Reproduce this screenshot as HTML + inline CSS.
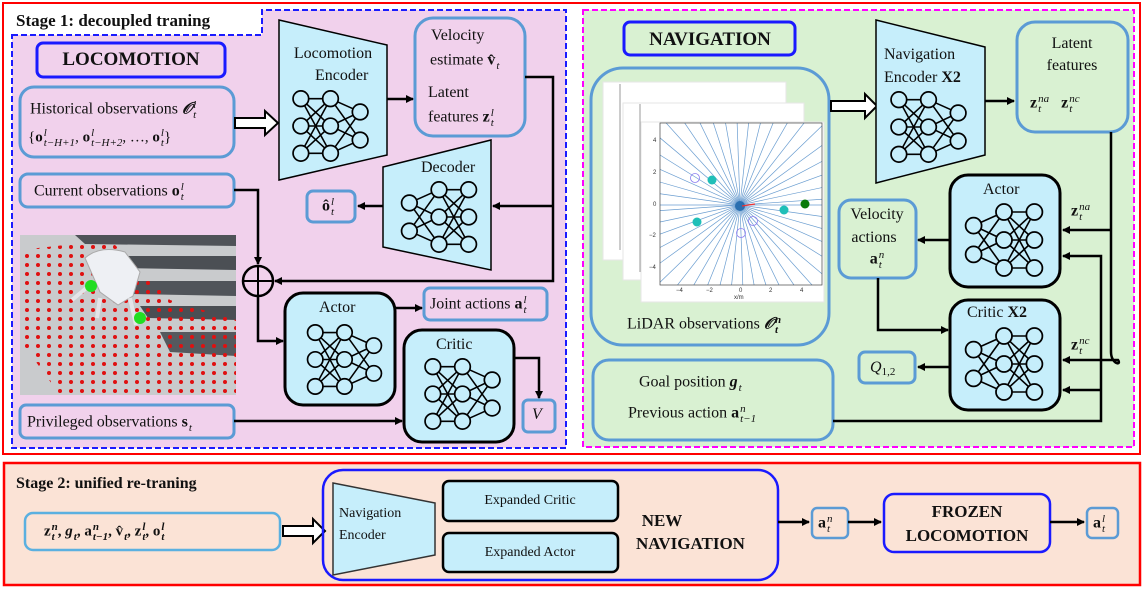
<!DOCTYPE html>
<html><head><meta charset="utf-8">
<style>
html,body{margin:0;padding:0;background:#fff}
#w{position:relative;width:1144px;height:590px;overflow:hidden;font-family:"Liberation Serif",serif}
svg{position:absolute;left:0;top:0}
.t{position:absolute;font-size:16px;white-space:nowrap;line-height:1;color:#111}
.c{transform:translateX(-50%)}
.ss{display:inline-flex;flex-direction:column;vertical-align:middle;font-size:11px;line-height:10px;font-style:italic;margin-left:1px}
.b{font-weight:bold}
i{font-style:italic}
</style></head><body><div id="w">
<svg width="1144" height="590" viewBox="0 0 1144 590">
<defs>
<marker id="ar" markerWidth="8" markerHeight="8" refX="7" refY="4" orient="auto" markerUnits="userSpaceOnUse"><path d="M0,0 L8,4 L0,8 z" fill="#000"/></marker>
<symbol id="nn1" viewBox="0 0 100 100">
<g stroke="#000" stroke-width="2">
<line x1="12" y1="15" x2="50" y2="15"/><line x1="12" y1="15" x2="50" y2="50"/><line x1="12" y1="15" x2="50" y2="85"/>
<line x1="12" y1="50" x2="50" y2="15"/><line x1="12" y1="50" x2="50" y2="50"/><line x1="12" y1="50" x2="50" y2="85"/>
<line x1="12" y1="85" x2="50" y2="15"/><line x1="12" y1="85" x2="50" y2="50"/><line x1="12" y1="85" x2="50" y2="85"/>
<line x1="50" y1="15" x2="88" y2="32"/><line x1="50" y1="15" x2="88" y2="68"/>
<line x1="50" y1="50" x2="88" y2="32"/><line x1="50" y1="50" x2="88" y2="68"/>
<line x1="50" y1="85" x2="88" y2="32"/><line x1="50" y1="85" x2="88" y2="68"/>
</g>
<g fill="#c6eefb" stroke="#000" stroke-width="2.2">
<circle cx="12" cy="15" r="10"/><circle cx="12" cy="50" r="10"/><circle cx="12" cy="85" r="10"/>
<circle cx="50" cy="15" r="10"/><circle cx="50" cy="50" r="10"/><circle cx="50" cy="85" r="10"/>
<circle cx="88" cy="32" r="10"/><circle cx="88" cy="68" r="10"/>
</g></symbol>
<symbol id="nn2" viewBox="0 0 100 100">
<g stroke="#000" stroke-width="2">
<line x1="12" y1="32" x2="50" y2="15"/><line x1="12" y1="32" x2="50" y2="50"/><line x1="12" y1="32" x2="50" y2="85"/>
<line x1="12" y1="68" x2="50" y2="15"/><line x1="12" y1="68" x2="50" y2="50"/><line x1="12" y1="68" x2="50" y2="85"/>
<line x1="50" y1="15" x2="88" y2="15"/><line x1="50" y1="15" x2="88" y2="50"/><line x1="50" y1="15" x2="88" y2="85"/>
<line x1="50" y1="50" x2="88" y2="15"/><line x1="50" y1="50" x2="88" y2="50"/><line x1="50" y1="50" x2="88" y2="85"/>
<line x1="50" y1="85" x2="88" y2="15"/><line x1="50" y1="85" x2="88" y2="50"/><line x1="50" y1="85" x2="88" y2="85"/>
</g>
<g fill="#c6eefb" stroke="#000" stroke-width="2.2">
<circle cx="12" cy="32" r="10"/><circle cx="12" cy="68" r="10"/>
<circle cx="50" cy="15" r="10"/><circle cx="50" cy="50" r="10"/><circle cx="50" cy="85" r="10"/>
<circle cx="88" cy="15" r="10"/><circle cx="88" cy="50" r="10"/><circle cx="88" cy="85" r="10"/>
</g></symbol>
<pattern id="dots" width="11" height="9" patternUnits="userSpaceOnUse"><circle cx="5" cy="4" r="2" fill="#e01010"/></pattern>
<clipPath id="pc"><rect x="660" y="123" width="162" height="162"/></clipPath>
<clipPath id="ph"><rect x="20" y="235" width="216" height="160"/></clipPath>
</defs>

<rect x="3" y="3" width="1137" height="451" fill="#fff" stroke="#ff0000" stroke-width="2"/>
<rect x="4" y="463" width="1136" height="122" fill="#fbe3d6" stroke="#ff0000" stroke-width="2.5"/>

<path d="M12,35 H262 V10 H566 V448 H12 Z" fill="#f1d1ec" stroke="#1a1aff" stroke-width="2" stroke-dasharray="6 3"/>
<rect x="583" y="10" width="551" height="437" fill="#d9f1d2" stroke="#ff00ff" stroke-width="2" stroke-dasharray="6 3"/>

<!-- LOCOMOTION -->
<rect x="37" y="43" width="188" height="34" rx="6" fill="none" stroke="#1a1aff" stroke-width="3"/>
<rect x="20" y="87" width="214" height="70" rx="14" fill="none" stroke="#5b9bd5" stroke-width="3"/>
<rect x="20" y="174" width="214" height="33" rx="8" fill="none" stroke="#5b9bd5" stroke-width="3"/>
<rect x="20" y="405" width="214" height="33" rx="6" fill="none" stroke="#5b9bd5" stroke-width="3"/>
<path d="M235,118 H265 V111 L278,123 L265,135 V128 H235 Z" fill="#fff" stroke="#000" stroke-width="2"/>
<polygon points="279,20 387,45 387,155 279,180" fill="#c6eefb" stroke="#000" stroke-width="1.5"/>
<use href="#nn1" x="283" y="87" width="95" height="78"/>
<rect x="415" y="18" width="110" height="118" rx="18" fill="none" stroke="#5b9bd5" stroke-width="3"/>
<polygon points="383,167 491,140 491,270 383,247" fill="#c6eefb" stroke="#000" stroke-width="1.5"/>
<use href="#nn2" x="390" y="178" width="98" height="78"/>
<rect x="307" y="191" width="48" height="31" rx="6" fill="none" stroke="#5b9bd5" stroke-width="3"/>
<rect x="285" y="293" width="110" height="112" rx="18" fill="#c6eefb" stroke="#000" stroke-width="3"/>
<use href="#nn1" x="298" y="321" width="93" height="77"/>
<rect x="404" y="330" width="110" height="112" rx="18" fill="#c6eefb" stroke="#000" stroke-width="3"/>
<use href="#nn1" x="415" y="355" width="95" height="78"/>
<rect x="424" y="288" width="123" height="32" rx="6" fill="none" stroke="#5b9bd5" stroke-width="3"/>
<rect x="523" y="400" width="32" height="32" rx="5" fill="none" stroke="#5b9bd5" stroke-width="3"/>
<circle cx="258" cy="281" r="15" fill="none" stroke="#000" stroke-width="2.5"/>
<line x1="243" y1="281" x2="273" y2="281" stroke="#000" stroke-width="2"/><line x1="258" y1="266" x2="258" y2="296" stroke="#000" stroke-width="2"/>

<g fill="none" stroke="#000" stroke-width="2.5" marker-end="url(#ar)">
<path d="M387,99 H413"/>
<path d="M525,77 H553 V281 H275"/>
<path d="M553,206 H493"/>
<path d="M383,206 H358"/>
<path d="M234,190 H258 V264"/>
<path d="M258,296 V341 H283"/>
<path d="M395,308 H422"/>
<path d="M514,358 H539 V398"/>
<path d="M234,421 H402"/>
</g>

<!-- photo -->
<g clip-path="url(#ph)">
<rect x="20" y="235" width="216" height="160" fill="#c9cbcd"/>
<polygon points="75,235 236,235 236,246 85,244" fill="#4f5358"/>
<polygon points="110,256 236,256 236,270 118,268" fill="#4b4f54"/>
<polygon points="125,281 236,281 236,296 132,294" fill="#50545a"/>
<polygon points="140,306 236,306 236,320 148,318" fill="#4a4e53"/>
<polygon points="160,332 236,332 236,356 170,352" fill="#55595e"/>
<polygon points="20,250 110,240 170,300 236,320 236,395 60,395 20,340" fill="url(#dots)"/>
<path d="M85,258 Q100,245 125,252 L140,272 L133,296 L118,305 L100,292 Z" fill="#eef0f4" stroke="#aaa" stroke-width="1"/>
<path d="M90,285 L72,300 M100,298 L97,318 M130,298 L136,325" stroke="#e4e4e8" stroke-width="4"/>
<circle cx="91" cy="286" r="6" fill="#22dd22"/><circle cx="140" cy="318" r="6" fill="#22dd22"/>
</g>

<!-- NAVIGATION -->
<rect x="624" y="22" width="171" height="33" rx="6" fill="none" stroke="#1a1aff" stroke-width="3"/>
<rect x="591" y="68" width="238" height="277" rx="32" fill="none" stroke="#5b9bd5" stroke-width="3"/>
<rect x="603" y="82" width="183" height="178" fill="#fff" stroke="#e6e6e6"/>
<rect x="623" y="103" width="181" height="177" fill="#fff" stroke="#e6e6e6"/>
<rect x="641" y="122" width="183" height="180" fill="#fff" stroke="#e6e6e6"/>
<line x1="620" y1="84" x2="620" y2="250" stroke="#555" stroke-width=".6"/>
<line x1="640" y1="104" x2="640" y2="272" stroke="#555" stroke-width=".6"/>
<g clip-path="url(#pc)" stroke="#6a9dd0" stroke-width="0.7">
<line x1="540" y1="205" x2="940" y2="205"/>
<line x1="540" y1="205" x2="940" y2="205" transform="rotate(8 740 205)"/>
<line x1="540" y1="205" x2="940" y2="205" transform="rotate(16 740 205)"/>
<line x1="540" y1="205" x2="940" y2="205" transform="rotate(24 740 205)"/>
<line x1="540" y1="205" x2="940" y2="205" transform="rotate(32 740 205)"/>
<line x1="540" y1="205" x2="940" y2="205" transform="rotate(40 740 205)"/>
<line x1="540" y1="205" x2="940" y2="205" transform="rotate(48 740 205)"/>
<line x1="540" y1="205" x2="940" y2="205" transform="rotate(56 740 205)"/>
<line x1="540" y1="205" x2="940" y2="205" transform="rotate(64 740 205)"/>
<line x1="540" y1="205" x2="940" y2="205" transform="rotate(72 740 205)"/>
<line x1="540" y1="205" x2="940" y2="205" transform="rotate(80 740 205)"/>
<line x1="540" y1="205" x2="940" y2="205" transform="rotate(88 740 205)"/>
<line x1="540" y1="205" x2="940" y2="205" transform="rotate(96 740 205)"/>
<line x1="540" y1="205" x2="940" y2="205" transform="rotate(104 740 205)"/>
<line x1="540" y1="205" x2="940" y2="205" transform="rotate(112 740 205)"/>
<line x1="540" y1="205" x2="940" y2="205" transform="rotate(120 740 205)"/>
<line x1="540" y1="205" x2="940" y2="205" transform="rotate(128 740 205)"/>
<line x1="540" y1="205" x2="940" y2="205" transform="rotate(136 740 205)"/>
<line x1="540" y1="205" x2="940" y2="205" transform="rotate(144 740 205)"/>
<line x1="540" y1="205" x2="940" y2="205" transform="rotate(152 740 205)"/>
<line x1="540" y1="205" x2="940" y2="205" transform="rotate(160 740 205)"/>
<line x1="540" y1="205" x2="940" y2="205" transform="rotate(168 740 205)"/>
<line x1="540" y1="205" x2="940" y2="205" transform="rotate(176 740 205)"/>
</g>
<rect x="660" y="123" width="162" height="162" fill="none" stroke="#444" stroke-width=".7"/>
<circle cx="740" cy="206" r="5" fill="#2a6fb0"/>
<line x1="742" y1="206" x2="755" y2="204" stroke="#e33" stroke-width="1.2"/>
<circle cx="712" cy="180" r="4.5" fill="#1fbfb8"/><circle cx="697" cy="222" r="4.5" fill="#1fbfb8"/><circle cx="784" cy="210" r="4.5" fill="#1fbfb8"/>
<circle cx="805" cy="204" r="4.5" fill="#0a7a0a"/>
<g fill="none" stroke="#8a7cf0" stroke-width="0.8"><circle cx="695" cy="178" r="4.5"/><circle cx="753" cy="221" r="4.5"/><circle cx="741" cy="233" r="4.5"/></g>
<g font-family="Liberation Sans" font-size="6" fill="#333">
<text x="676" y="292">−4</text><text x="706" y="292">−2</text><text x="739" y="292">0</text><text x="769" y="292">2</text><text x="800" y="292">4</text><text x="734" y="299">x/m</text>
<text x="653" y="142">4</text><text x="653" y="174">2</text><text x="653" y="206">0</text><text x="649" y="237">−2</text><text x="649" y="269">−4</text>
</g>
<path d="M831,101 H865 V94 L877,106 L865,118 V111 H831 Z" fill="#fff" stroke="#000" stroke-width="2"/>
<polygon points="876,20 985,47 985,155 876,183" fill="#c6eefb" stroke="#000" stroke-width="1.5"/>
<use href="#nn1" x="881" y="88" width="95" height="78"/>
<rect x="1017" y="22" width="111" height="110" rx="18" fill="none" stroke="#5b9bd5" stroke-width="3"/>
<rect x="950" y="175" width="110" height="112" rx="18" fill="#c6eefb" stroke="#000" stroke-width="3"/>
<use href="#nn2" x="957" y="200" width="94" height="80"/>
<rect x="950" y="300" width="110" height="110" rx="18" fill="#c6eefb" stroke="#000" stroke-width="3"/>
<use href="#nn2" x="957" y="324" width="94" height="80"/>
<rect x="839" y="200" width="77" height="78" rx="12" fill="none" stroke="#5b9bd5" stroke-width="3"/>
<rect x="859" y="352" width="56" height="31" rx="6" fill="none" stroke="#5b9bd5" stroke-width="3"/>
<rect x="593" y="360" width="240" height="80" rx="16" fill="none" stroke="#5b9bd5" stroke-width="3"/>
<g fill="none" stroke="#000" stroke-width="2.5" marker-end="url(#ar)">
<path d="M985,101 H1014"/>
<path d="M1111,132 V352 C1111,364 1122,366 1118,360 H1063"/>
<path d="M1111,230 H1063"/>
<path d="M950,240 H918"/>
<path d="M878,278 V330 H948"/>
<path d="M950,367 H918"/>
<path d="M833,421 H1101 V256 H1063"/>
<path d="M1101,390 H1063"/>
</g>

<!-- stage 2 -->
<rect x="25" y="513" width="255" height="37" rx="8" fill="none" stroke="#5bb0e0" stroke-width="2.5"/>
<path d="M283,526 H313 V519 L325,531 L313,543 V536 H283 Z" fill="#fff" stroke="#000" stroke-width="2"/>
<rect x="323" y="470" width="455" height="110" rx="20" fill="none" stroke="#1a1aff" stroke-width="2.5"/>
<polygon points="333,483 435,503 435,555 333,575" fill="#c6eefb" stroke="#333" stroke-width="1.5"/>
<rect x="443" y="481" width="175" height="40" rx="6" fill="#c6eefb" stroke="#000" stroke-width="2.5"/>
<rect x="443" y="533" width="175" height="39" rx="6" fill="#c6eefb" stroke="#000" stroke-width="2.5"/>
<rect x="812" y="508" width="36" height="30" rx="5" fill="none" stroke="#5b9bd5" stroke-width="2.5"/>
<rect x="884" y="494" width="166" height="58" rx="10" fill="none" stroke="#1a1aff" stroke-width="2.5"/>
<rect x="1087" y="508" width="31" height="30" rx="5" fill="none" stroke="#5b9bd5" stroke-width="2.5"/>
<g fill="none" stroke="#000" stroke-width="2.5" marker-end="url(#ar)">
<path d="M778,522 H809"/><path d="M848,522 H881"/><path d="M1050,522 H1084"/>
</g>
</svg>

<div class="t b" style="left:16px;top:12px;font-size:17px">Stage 1: decoupled traning</div>
<div class="t b c" style="left:131px;top:50px;font-size:19px">LOCOMOTION</div>
<div class="t" style="left:30px;top:100px">Historical observations <i class="b">𝒪</i><span class="ss"><span>l</span><span>t</span></span></div>
<div class="t" style="left:28px;top:128px;font-size:15px">{<b>o</b><span class="ss"><span>l</span><span>t−H+1</span></span>, <b>o</b><span class="ss"><span>l</span><span>t−H+2</span></span>, …, <b>o</b><span class="ss"><span>l</span><span>t</span></span>}</div>
<div class="t" style="left:34px;top:182px">Current observations <b>o</b><span class="ss"><span>l</span><span>t</span></span></div>
<div class="t" style="left:27px;top:413px">Privileged observations <b>s</b><span class="ss"><span>&nbsp;</span><span>t</span></span></div>
<div class="t c" style="left:333px;top:46px">Locomotion</div>
<div class="t" style="left:315px;top:68px">Encoder</div>
<div class="t" style="left:431px;top:28px">Velocity</div>
<div class="t" style="left:430px;top:51px">estimate <b>v̂</b><span class="ss"><span>&nbsp;</span><span>t</span></span></div>
<div class="t" style="left:428px;top:85px">Latent</div>
<div class="t" style="left:428px;top:108px">features <b>z</b><span class="ss"><span>l</span><span>t</span></span></div>
<div class="t" style="left:421px;top:160px">Decoder</div>
<div class="t" style="left:322px;top:197px"><b>ô</b><span class="ss"><span>l</span><span>t</span></span></div>
<div class="t" style="left:319px;top:300px">Actor</div>
<div class="t" style="left:436px;top:337px">Critic</div>
<div class="t" style="left:430px;top:295px">Joint actions <b>a</b><span class="ss"><span>l</span><span>t</span></span></div>
<div class="t" style="left:532px;top:407px"><i>V</i></div>

<div class="t b c" style="left:710px;top:30px;font-size:19px">NAVIGATION</div>
<div class="t" style="left:627px;top:315px">LiDAR observations <i class="b">𝒪</i><span class="ss b"><span>n</span><span>t</span></span></div>
<div class="t" style="left:884px;top:47px">Navigation</div>
<div class="t" style="left:884px;top:70px">Encoder <b>X2</b></div>
<div class="t c" style="left:1072px;top:36px">Latent</div>
<div class="t c" style="left:1072px;top:58px">features</div>
<div class="t" style="left:1030px;top:94px"><b>z</b><span class="ss"><span>na</span><span>t</span></span>&nbsp;&nbsp;&nbsp;<b>z</b><span class="ss"><span>nc</span><span>t</span></span></div>
<div class="t" style="left:983px;top:182px">Actor</div>
<div class="t" style="left:967px;top:305px">Critic <b>X2</b></div>
<div class="t" style="left:1071px;top:202px"><b>z</b><span class="ss"><span>na</span><span>t</span></span></div>
<div class="t" style="left:1071px;top:336px"><b>z</b><span class="ss"><span>nc</span><span>t</span></span></div>
<div class="t c" style="left:877px;top:207px">Velocity</div>
<div class="t c" style="left:874px;top:230px">actions</div>
<div class="t c" style="left:877px;top:250px"><b>a</b><span class="ss"><span>n</span><span>t</span></span></div>
<div class="t" style="left:870px;top:360px"><i>Q</i><span style="font-size:11px;vertical-align:-3px">1,2</span></div>
<div class="t" style="left:639px;top:373px">Goal position <i class="b">g</i><span class="ss"><span>&nbsp;</span><span>t</span></span></div>
<div class="t" style="left:628px;top:404px">Previous action <b>a</b><span class="ss"><span>n</span><span>t−1</span></span></div>

<div class="t b" style="left:16px;top:476px;font-size:16px">Stage 2: unified re-traning</div>
<div class="t b" style="left:44px;top:522px;font-size:15px">z<span class="ss"><span>n</span><span>t</span></span>, <i>g</i><span class="ss"><span>&nbsp;</span><span>t</span></span>, a<span class="ss"><span>n</span><span>t−1</span></span>, v̂<span class="ss"><span>&nbsp;</span><span>t</span></span>, z<span class="ss"><span>l</span><span>t</span></span>, o<span class="ss"><span>l</span><span>t</span></span></div>
<div class="t" style="left:339px;top:507px;font-size:14px">Navigation</div>
<div class="t" style="left:339px;top:529px;font-size:14px">Encoder</div>
<div class="t c" style="left:530px;top:494px;font-size:14px">Expanded Critic</div>
<div class="t c" style="left:530px;top:546px;font-size:14px">Expanded Actor</div>
<div class="t b c" style="left:662px;top:512px;font-size:17px">NEW</div>
<div class="t b" style="left:636px;top:535px;font-size:17px">NAVIGATION</div>
<div class="t" style="left:818px;top:514px"><b>a</b><span class="ss"><span>n</span><span>t</span></span></div>
<div class="t b c" style="left:967px;top:503px;font-size:17px">FROZEN</div>
<div class="t b c" style="left:967px;top:527px;font-size:17px">LOCOMOTION</div>
<div class="t" style="left:1093px;top:514px"><b>a</b><span class="ss"><span>l</span><span>t</span></span></div>
</div></body></html>
